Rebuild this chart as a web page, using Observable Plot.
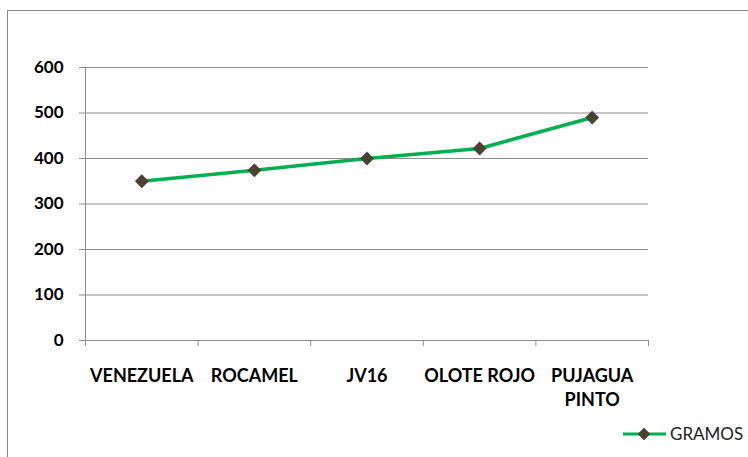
<!DOCTYPE html>
<html><head><meta charset="utf-8">
<script src="https://cdn.jsdelivr.net/npm/d3@7"></script>
<script src="https://cdn.jsdelivr.net/npm/@observablehq/plot@0.6"></script>
<style>
body{margin:0;background:#fff;}
#wrap{position:relative;width:748px;height:457px;overflow:hidden;font-family:Lato,"Liberation Sans",Arial,sans-serif;}
#frame{position:absolute;left:7px;top:10px;width:760px;height:470px;border:1.5px solid #8c8c8c;box-sizing:border-box;}
#legend{position:absolute;left:623px;top:423px;font-size:17px;color:#222;display:flex;align-items:center;}
#legend svg{margin-right:3px;}
</style></head><body>
<div id="wrap"><div id="frame"></div><div id="chart"></div>
<div id="legend"><svg width="44" height="18"><line x1="0" y1="9" x2="43" y2="9" stroke="#00b050" stroke-width="3"/><path d="M21,3 L27,9 L21,15 L15,9Z" fill="#4a4232" stroke="#3a3528" stroke-width="0.5"/></svg><span>GRAMOS</span></div>
</div>
<script>
const categories = ["VENEZUELA","ROCAMEL","JV16","OLOTE ROJO","PUJAGUA\nPINTO"];
const gramos = [350, 374, 400, 422, 490];
const yTicks = [0,100,200,300,400,500,600];

const data = categories.map((c,i)=>({i:i+0.5, c, v:gramos[i]}));
const boundaries = d3.range(categories.length+1);

const chart = Plot.plot({
  width:748, height:457,
  marginLeft:85, marginRight:100, marginTop:67, marginBottom:117,
  style:{background:"transparent", fontFamily:"Lato,'Liberation Sans',Arial,sans-serif"},
  x:{domain:[0,categories.length]},
  y:{domain:[0,600]},
  marks:[
    Plot.gridY(yTicks.filter(d=>d>0),{stroke:"#8c8c8c",strokeOpacity:1,strokeWidth:1}),
    Plot.ruleX([0],{stroke:"#8c8c8c"}),
    Plot.ruleY([0],{stroke:"#8c8c8c"}),
    Plot.axisY({ticks:yTicks, tickSize:6, tickPadding:16, stroke:"#8c8c8c", fontSize:17, fontWeight:"bold", fill:"#000", label:null}),
    Plot.axisX({ticks:boundaries, tickSize:6, tickFormat:()=>"", stroke:"#8c8c8c", label:null}),
    Plot.axisX({ticks:data.map(d=>d.i), tickSize:0, tickPadding:25, tickFormat:(t)=>categories[Math.floor(t)], fontSize:18, fontWeight:"bold", fill:"#000", label:null, lineHeight:1.3}),
    Plot.line(data,{x:"i", y:"v", stroke:"#00b050", strokeWidth:3.5}),
    Plot.dot(data,{x:"i", y:"v", symbol:"diamond2", r:6, fill:"#4a4232", stroke:"#3a3528", strokeWidth:0.5})
  ]
});
document.getElementById("chart").appendChild(chart);
</script>
</body></html>
